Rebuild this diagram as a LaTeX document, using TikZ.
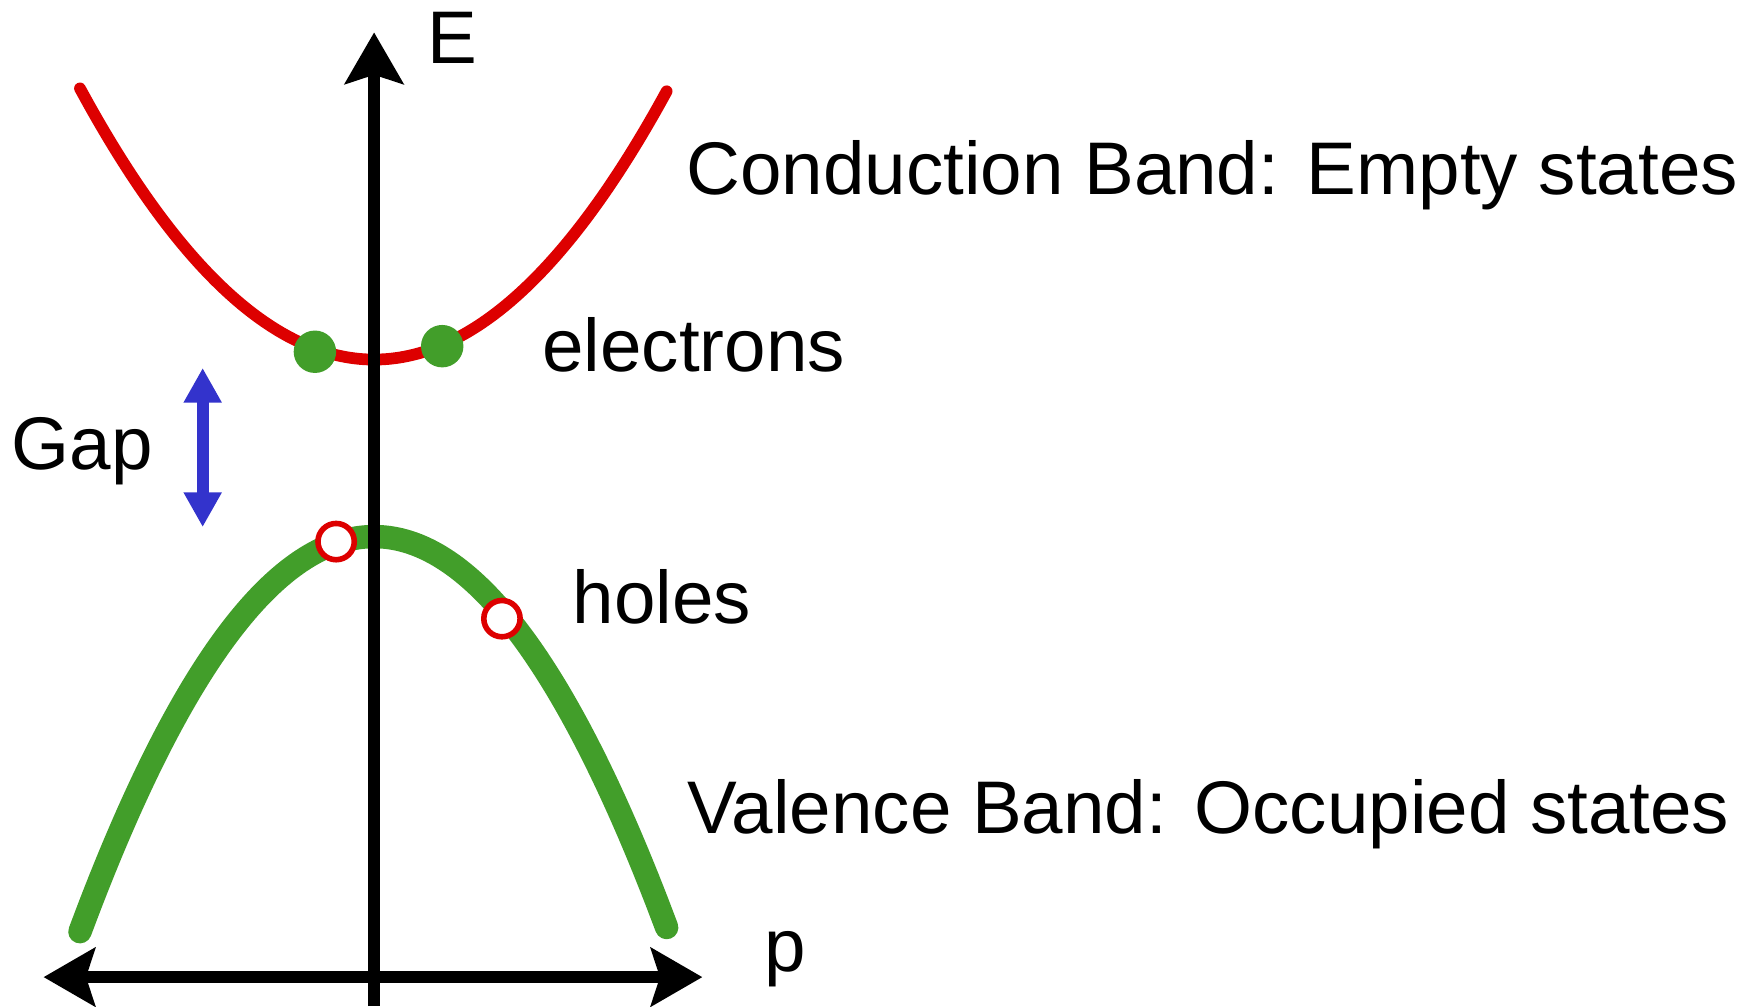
\documentclass[tikz,border=0pt]{standalone}
\usepackage{fontspec}
\setmainfont{Liberation Sans}
\usetikzlibrary{arrows.meta}

\definecolor{bandred}{RGB}{221,0,0}
\definecolor{bandgreen}{RGB}{66,158,42}
\definecolor{gapblue}{RGB}{51,51,204}

\tikzset{
    axistip/.tip={Stealth[length=4.6mm, width=5.2mm, inset=0.8mm]},
    gaptip/.tip={Triangle[length=3.1mm, width=3.2mm]}
}

\begin{document}
\begin{tikzpicture}[
    x=0.1mm, y=-0.1mm,
    bandtext/.style={anchor=base west, inner sep=0pt, font=\fontsize{19}{23}\selectfont},
    axisline/.style={line width=1.1mm, black},
    electron/.style={circle, fill=bandgreen, minimum size=3.8mm, inner sep=0pt},
    hole/.style={circle, draw=bandred, fill=white, line width=0.5mm, minimum size=3.25mm, inner sep=0pt}
]
\useasboundingbox (0,0) rectangle (1568,901);

\draw[bandred, line width=1.05mm, line cap=round]
    plot[domain=-2.634:2.62, samples=60, smooth] ({335+100*\x},{322-35*\x*\x});
\draw[bandgreen, line width=2.1mm, line cap=round]
    plot[domain=-2.634:2.62, samples=60, smooth] ({335+100*\x},{480.5+51*\x*\x});

\coordinate (eBot)   at (335,901);
\coordinate (eTop)   at (335,29);
\coordinate (pLeft)  at (39,875);
\coordinate (pRight) at (629,875);
\coordinate (gapTop) at (181.5,329.5);
\coordinate (gapBot) at (181.5,472);

\draw[axisline, -axistip]        (eBot)  -- (eTop);
\draw[axisline, axistip-axistip] (pLeft) -- (pRight);
\draw[gapblue, line width=1.1mm, gaptip-gaptip] (gapBot) -- (gapTop);

\node[electron] (e1) at (282,315) {};
\node[electron] (e2) at (396,310) {};
\node[hole]     (h1) at (301,485) {};
\node[hole]     (h2) at (449.5,554) {};

\node[bandtext] (eLabel) at (382,57)  {E};
\node[bandtext] (cb)     at (614,174) {Conduction Band: Empty states};
\node[bandtext] (elec)   at (485,333) {electrons};
\node[bandtext] (gap)    at (10,420)  {Gap};
\node[bandtext] (holes)  at (512,558) {holes};
\node[bandtext] (vb)     at (615,746) {Valence Band: Occupied states};
\node[bandtext] (pLabel) at (684,870) {p};

\end{tikzpicture}
\end{document}
